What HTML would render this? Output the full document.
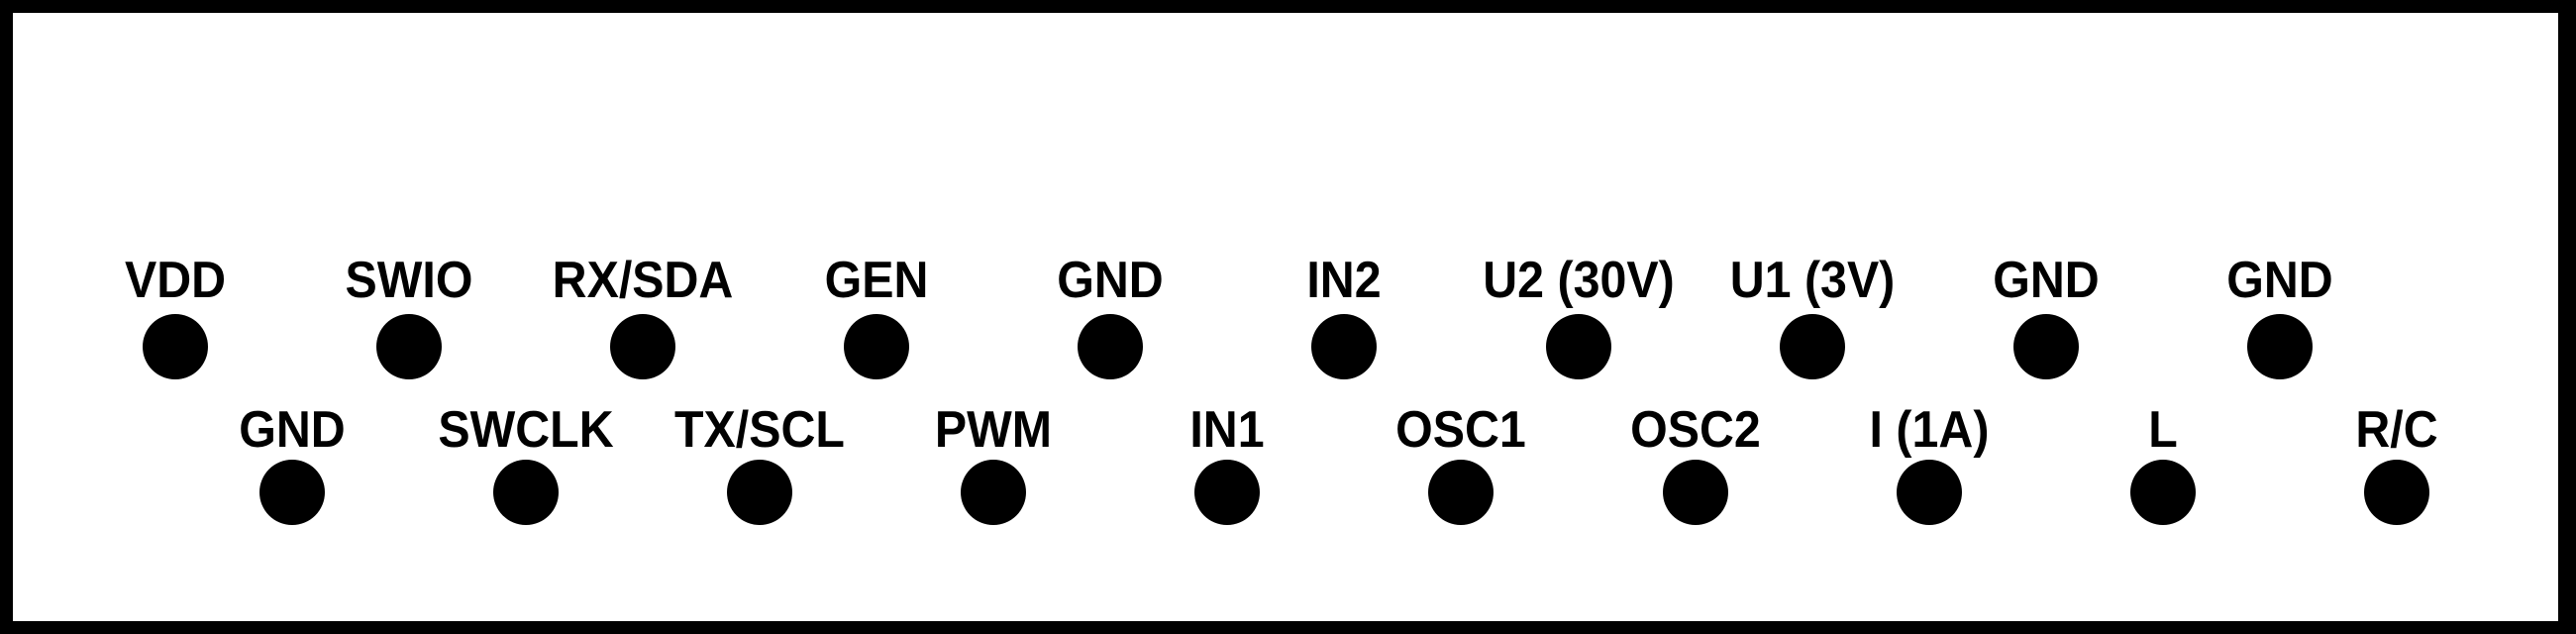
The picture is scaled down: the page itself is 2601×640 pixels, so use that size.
<!DOCTYPE html>
<html><head><meta charset="utf-8"><style>
html,body{margin:0;padding:0;background:#fff;}
svg{display:block;}
svg text{transform-box:fill-box;transform-origin:center;transform:scaleX(0.93);}
</style></head><body>
<svg width="2601" height="640" viewBox="0 0 2601 640" xmlns="http://www.w3.org/2000/svg">
<rect x="0" y="0" width="2601" height="640" fill="#000"/>
<rect x="13" y="13" width="2570" height="614" fill="#fff"/>
<g font-family="Liberation Sans, Arial, sans-serif" font-weight="bold" font-size="52" text-anchor="middle" fill="#000">
<circle cx="177" cy="350" r="33"/><text x="177" y="300">VDD</text>
<circle cx="413" cy="350" r="33"/><text x="413" y="300">SWIO</text>
<circle cx="649" cy="350" r="33"/><text x="649" y="300">RX/SDA</text>
<circle cx="885" cy="350" r="33"/><text x="885" y="300">GEN</text>
<circle cx="1121" cy="350" r="33"/><text x="1121" y="300">GND</text>
<circle cx="1357" cy="350" r="33"/><text x="1357" y="300">IN2</text>
<circle cx="1594" cy="350" r="33"/><text x="1594" y="300">U2 (30V)</text>
<circle cx="1830" cy="350" r="33"/><text x="1830" y="300">U1 (3V)</text>
<circle cx="2066" cy="350" r="33"/><text x="2066" y="300">GND</text>
<circle cx="2302" cy="350" r="33"/><text x="2302" y="300">GND</text>

<circle cx="295" cy="497" r="33"/><text x="295" y="451">GND</text>
<circle cx="531" cy="497" r="33"/><text x="531" y="451">SWCLK</text>
<circle cx="767" cy="497" r="33"/><text x="767" y="451">TX/SCL</text>
<circle cx="1003" cy="497" r="33"/><text x="1003" y="451">PWM</text>
<circle cx="1239" cy="497" r="33"/><text x="1239" y="451">IN1</text>
<circle cx="1475" cy="497" r="33"/><text x="1475" y="451">OSC1</text>
<circle cx="1712" cy="497" r="33"/><text x="1712" y="451">OSC2</text>
<circle cx="1948" cy="497" r="33"/><text x="1948" y="451">I (1A)</text>
<circle cx="2184" cy="497" r="33"/><text x="2184" y="451">L</text>
<circle cx="2420" cy="497" r="33"/><text x="2420" y="451">R/C</text>
</g>
</svg>
</body></html>
